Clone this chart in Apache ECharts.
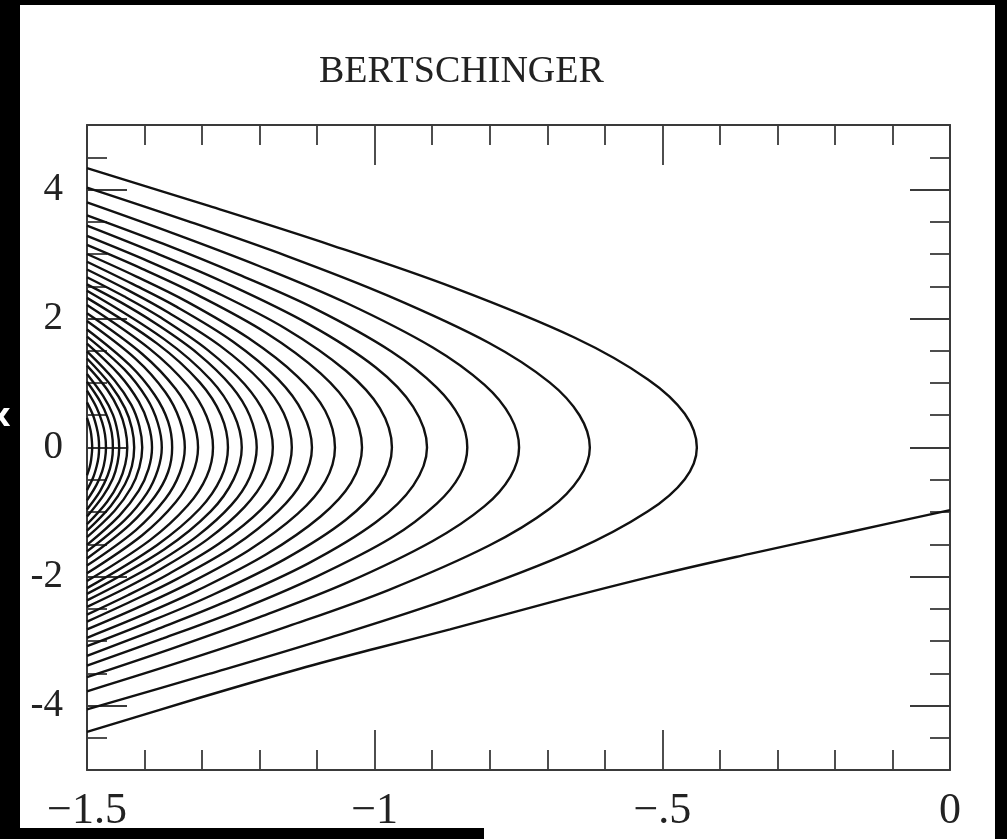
<!DOCTYPE html>
<html>
<head>
<meta charset="utf-8">
<script src="https://cdn.jsdelivr.net/npm/echarts@6/dist/echarts.min.js"></script>
<style>html,body{margin:0;padding:0;background:#fff;}#chart{width:1007px;height:839px;}</style>
</head>
<body>
<div id="chart"></div>
<script>
// ---- data ----
const titleText = 'BERTSCHINGER';
const xTickLabels = { '-1.5': '\u22121.5', '-1': '\u22121', '-0.5': '\u2212.5', '0': '0' };
const yMajorTicks = [-4, -2, 0, 2, 4];
const yTickLabels = { '-4': '-4', '-2': '-2', '0': '0', '2': '2', '4': '4' };

// infalling stream
const infall = [[0,-0.97],[-0.174,-1.31],[-0.348,-1.65],[-0.5,-1.96],[-0.695,-2.40],[-0.869,-2.82],[-1.0,-3.12],[-1.13,-3.43],[-1.304,-3.88],[-1.5,-4.41]];

// shell streams, outermost first
const shell01 = [[-1.5,4.33],[-1.288,3.745],[-1.076,3.139],[-0.864,2.482],[-0.652,1.701],[-0.525,1.056],[-0.461,0.523],[-0.44,0],[-0.461,-0.491],[-0.525,-0.99],[-0.652,-1.595],[-0.864,-2.327],[-1.076,-2.943],[-1.288,-3.511],[-1.5,-4.06]];
const shell02 = [[-1.5,4.03],[-1.325,3.51],[-1.150,2.96],[-0.976,2.35],[-0.801,1.62],[-0.696,1.01],[-0.644,0.50],[-0.626,0],[-0.644,-0.47],[-0.696,-0.95],[-0.801,-1.52],[-0.976,-2.21],[-1.150,-2.77],[-1.325,-3.29],[-1.5,-3.78]];
const shell03 = [[-1.5,3.80],[-1.350,3.32],[-1.200,2.81],[-1.049,2.24],[-0.899,1.55],[-0.809,0.97],[-0.764,0.48],[-0.749,0],[-0.764,-0.45],[-0.809,-0.91],[-0.899,-1.45],[-1.049,-2.10],[-1.200,-2.63],[-1.350,-3.11],[-1.5,-3.56]];
const shell04 = [[-1.5,3.60],[-1.368,3.16],[-1.236,2.68],[-1.103,2.15],[-0.971,1.49],[-0.892,0.93],[-0.852,0.46],[-0.839,0],[-0.852,-0.43],[-0.892,-0.87],[-0.971,-1.40],[-1.103,-2.01],[-1.236,-2.52],[-1.368,-2.96],[-1.5,-3.38]];
const shell05 = [[-1.5,3.44],[-1.382,3.02],[-1.264,2.57],[-1.116,1.92],[-0.998,1.24],[-0.933,0.63],[-0.909,0],[-0.933,-0.59],[-0.998,-1.16],[-1.116,-1.80],[-1.264,-2.41],[-1.382,-2.83],[-1.5,-3.23]];
const shell06 = [[-1.5,3.28],[-1.394,2.89],[-1.288,2.46],[-1.156,1.85],[-1.050,1.19],[-0.991,0.61],[-0.970,0],[-0.991,-0.57],[-1.050,-1.12],[-1.156,-1.73],[-1.288,-2.31],[-1.394,-2.71],[-1.5,-3.08]];
const shell07 = [[-1.5,3.14],[-1.404,2.77],[-1.309,2.37],[-1.189,1.78],[-1.094,1.15],[-1.041,0.59],[-1.022,0],[-1.041,-0.55],[-1.094,-1.07],[-1.189,-1.66],[-1.309,-2.22],[-1.404,-2.60],[-1.5,-2.95]];
const shell08 = [[-1.5,3.00],[-1.414,2.65],[-1.328,2.27],[-1.220,1.70],[-1.134,1.10],[-1.086,0.57],[-1.069,0],[-1.086,-0.53],[-1.134,-1.03],[-1.220,-1.60],[-1.328,-2.13],[-1.414,-2.49],[-1.5,-2.82]];
const shell09 = [[-1.5,2.88],[-1.422,2.54],[-1.344,2.18],[-1.246,1.64],[-1.168,1.06],[-1.125,0.54],[-1.109,0],[-1.125,-0.51],[-1.168,-0.99],[-1.246,-1.54],[-1.344,-2.04],[-1.422,-2.38],[-1.5,-2.70]];
const shell10 = [[-1.5,2.76],[-1.429,2.44],[-1.358,2.09],[-1.269,1.58],[-1.197,1.02],[-1.158,0.53],[-1.144,0],[-1.158,-0.49],[-1.197,-0.96],[-1.269,-1.48],[-1.358,-1.96],[-1.429,-2.29],[-1.5,-2.59]];
const shell11 = [[-1.5,2.64],[-1.435,2.34],[-1.371,2.01],[-1.290,1.51],[-1.226,0.98],[-1.190,0.50],[-1.177,0],[-1.190,-0.47],[-1.226,-0.92],[-1.290,-1.42],[-1.371,-1.88],[-1.435,-2.19],[-1.5,-2.47]];
const shell12 = [[-1.5,2.53],[-1.441,2.25],[-1.382,1.93],[-1.308,1.46],[-1.249,0.95],[-1.217,0.49],[-1.205,0],[-1.217,-0.46],[-1.249,-0.89],[-1.308,-1.37],[-1.382,-1.81],[-1.441,-2.10],[-1.5,-2.37]];
const shell13 = [[-1.5,2.43],[-1.366,1.68],[-1.285,1.05],[-1.245,0.52],[-1.231,0],[-1.245,-0.49],[-1.285,-0.99],[-1.366,-1.58],[-1.5,-2.27]];
const shell14 = [[-1.5,2.32],[-1.378,1.61],[-1.304,1.01],[-1.267,0.50],[-1.255,0],[-1.267,-0.47],[-1.304,-0.95],[-1.378,-1.51],[-1.5,-2.18]];
const shell15 = [[-1.5,2.21],[-1.391,1.53],[-1.325,0.96],[-1.292,0.48],[-1.281,0],[-1.292,-0.45],[-1.325,-0.90],[-1.391,-1.44],[-1.5,-2.07]];
const shell16 = [[-1.5,2.08],[-1.404,1.45],[-1.346,0.91],[-1.317,0.45],[-1.307,0],[-1.317,-0.42],[-1.346,-0.85],[-1.404,-1.36],[-1.5,-1.95]];
const shell17 = [[-1.5,1.96],[-1.415,1.37],[-1.364,0.86],[-1.339,0.43],[-1.330,0],[-1.339,-0.40],[-1.364,-0.80],[-1.415,-1.28],[-1.5,-1.83]];
const shell18 = [[-1.5,1.83],[-1.426,1.28],[-1.382,0.81],[-1.359,0.40],[-1.352,0],[-1.359,-0.38],[-1.382,-0.76],[-1.426,-1.20],[-1.5,-1.72]];
const shell19 = [[-1.5,1.72],[-1.435,1.21],[-1.396,0.76],[-1.377,0.38],[-1.370,0],[-1.377,-0.35],[-1.396,-0.71],[-1.435,-1.13],[-1.5,-1.61]];
const shell20 = [[-1.5,1.61],[-1.444,1.13],[-1.410,0.71],[-1.393,0.35],[-1.387,0],[-1.393,-0.33],[-1.410,-0.67],[-1.444,-1.06],[-1.5,-1.51]];
const shell21 = [[-1.5,1.49],[-1.452,1.04],[-1.423,0.66],[-1.409,0.33],[-1.404,0],[-1.409,-0.31],[-1.423,-0.62],[-1.452,-0.98],[-1.5,-1.39]];
const shell22 = [[-1.5,1.38],[-1.459,0.97],[-1.434,0.61],[-1.422,0.30],[-1.418,0],[-1.422,-0.29],[-1.434,-0.57],[-1.459,-0.91],[-1.5,-1.29]];
const shell23 = [[-1.5,1.27],[-1.465,0.90],[-1.444,0.57],[-1.4335,0.28],[-1.430,0],[-1.4335,-0.26],[-1.444,-0.53],[-1.465,-0.84],[-1.5,-1.19]];
const shell24 = [[-1.5,1.14],[-1.472,0.80],[-1.455,0.51],[-1.447,0.25],[-1.444,0],[-1.447,-0.24],[-1.455,-0.48],[-1.472,-0.75],[-1.5,-1.07]];
const shell25 = [[-1.5,1.02],[-1.4775,0.72],[-1.464,0.46],[-1.457,0.23],[-1.455,0],[-1.457,-0.21],[-1.464,-0.43],[-1.4775,-0.68],[-1.5,-0.96]];
const shell26 = [[-1.5,0.88],[-1.4835,0.62],[-1.4736,0.39],[-1.4687,0.20],[-1.467,0],[-1.4687,-0.18],[-1.4736,-0.37],[-1.4835,-0.58],[-1.5,-0.82]];
const shell27 = [[-1.5,0.70],[-1.4895,0.50],[-1.4832,0.31],[-1.480,0.16],[-1.479,0],[-1.480,-0.15],[-1.4832,-0.29],[-1.4895,-0.47],[-1.5,-0.66]];
const shell28 = [[-1.5,0.46],[-1.4955,0.33],[-1.4928,0.21],[-1.491,0],[-1.4928,-0.19],[-1.4955,-0.31],[-1.5,-0.43]];

const streams = [infall, shell01, shell02, shell03, shell04, shell05, shell06, shell07, shell08, shell09, shell10,
  shell11, shell12, shell13, shell14, shell15, shell16, shell17, shell18, shell19, shell20,
  shell21, shell22, shell23, shell24, shell25, shell26, shell27, shell28];

// ---- chart ----
const FRAME = '#3a3a3a';
const SERIF = '"Liberation Serif", "DejaVu Serif", serif';
const chart = echarts.init(document.getElementById('chart'), null, { renderer: 'canvas' });

function xAxisCfg(pos, showLabels) {
  return {
    type: 'value', position: pos, min: -1.5, max: 0, interval: 0.5, gridIndex: 0,
    axisLine: { show: true, onZero: false, lineStyle: { color: FRAME, width: 2 } },
    axisTick: { show: true, inside: true, length: 40, lineStyle: { color: FRAME, width: 1.8 } },
    minorTick: { show: true, splitNumber: 5, length: 20, lineStyle: { color: FRAME, width: 1.8 } },
    splitLine: { show: false }, minorSplitLine: { show: false },
    axisLabel: {
      show: showLabels, margin: 19, color: '#222', fontFamily: SERIF, fontSize: 44,
      formatter: v => xTickLabels[String(Math.round(v * 10) / 10)] ?? ''
    }
  };
}
function yMinorCfg(pos) {
  return {
    type: 'value', position: pos, min: -5, max: 5, interval: 0.5, gridIndex: 0,
    axisLine: { show: true, onZero: false, lineStyle: { color: FRAME, width: 2 } },
    axisTick: { show: true, inside: true, length: 20, lineStyle: { color: FRAME, width: 1.8 } },
    splitLine: { show: false }, axisLabel: { show: false }
  };
}
function yMajorCfg(pos, showLabels) {
  return {
    type: 'value', position: pos, min: -5, max: 5, gridIndex: 0,
    axisLine: { show: false, onZero: false },
    axisTick: { show: true, inside: true, length: 40, customValues: yMajorTicks, lineStyle: { color: FRAME, width: 1.8 } },
    splitLine: { show: false },
    axisLabel: {
      show: showLabels, customValues: yMajorTicks, margin: 24, color: '#222', fontFamily: SERIF, fontSize: 39,
      formatter: v => yTickLabels[String(v)] ?? ''
    }
  };
}

const series = streams.map((pts, i) => ({
  type: 'line', xAxisIndex: 0, yAxisIndex: 0, data: pts,
  showSymbol: false, symbol: 'none', smooth: 0.35, silent: true,
  lineStyle: { color: '#111', width: 2.4 }, z: 3
}));

chart.setOption({
  animation: false,
  backgroundColor: '#ffffff',
  title: {
    text: titleText, left: 314, top: 48,
    textStyle: { fontFamily: SERIF, fontSize: 38, fontWeight: 'normal', color: '#222' }
  },
  grid: { left: 87, right: 57, top: 125, bottom: 69, containLabel: false },
  xAxis: [xAxisCfg('bottom', true), xAxisCfg('top', false)],
  yAxis: [yMinorCfg('left'), yMajorCfg('left', true), yMinorCfg('right'), yMajorCfg('right', false)],
  series: series,
  graphic: [
    { type: 'rect', left: 0, top: 0, z: 100, shape: { width: 20, height: 839 }, style: { fill: '#000' } },
    { type: 'rect', left: 0, top: 0, z: 100, shape: { width: 1007, height: 5 }, style: { fill: '#000' } },
    { type: 'rect', right: 0, top: 0, z: 100, shape: { width: 12, height: 839 }, style: { fill: '#000' } },
    { type: 'rect', left: 0, top: 828, z: 100, shape: { width: 484, height: 11 }, style: { fill: '#000' } },
    { type: 'text', left: -10, top: 402, z: 101, style: { text: 'x', fill: '#fff', font: 'bold 32px "DejaVu Sans"' } }
  ]
});
</script>
</body>
</html>
